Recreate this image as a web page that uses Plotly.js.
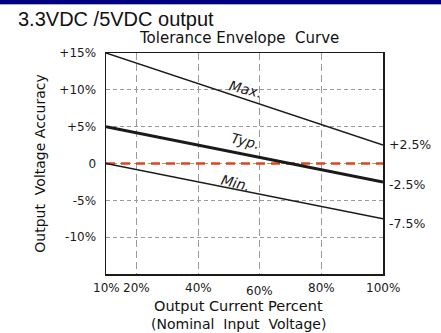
<!DOCTYPE html>
<html><head><meta charset="utf-8">
<script src="https://cdn.plot.ly/plotly-3.0.1.min.js"></script>
<style>html,body{margin:0;padding:0;background:#fff;}#c{width:441px;height:333px;}</style>
</head><body><div id="c"></div>
<script>
const loadPct = [10, 100];
const maxVals = [15, 2.5];
const typVals = [5, -2.5];
const minVals = [0, -7.5];
const refVals = [0, 0];
const xTickVals = [10, 20, 40, 60, 80, 100];
const xTickText = ['10%', '20%', '40%', '60%', '80%', '100%'];
const yTickVals = [15, 10, 5, 0, -5, -10];
const yTickText = ['+15%', '+10%', '+5%', '0', '-5%', '-10%'];
const lineNames = ['Max.', 'Typ.', 'Min.'];
const lineLabelPos = [[55.2, 10.1], [55.2, 3.1], [52.2, -2.6]];
const endLabels = ['+2.5%', '-2.5%', '-7.5%'];
const endLabelY = [2.6, -2.8, -8.2];

const F = 'DejaVu Sans, Verdana, sans-serif';
const traces = [
  {x: loadPct, y: refVals, mode: 'lines', line: {color: '#d8481e', width: 2.5, dash: '9px,6px'}, hoverinfo: 'skip'},
  {x: loadPct, y: maxVals, mode: 'lines', line: {color: '#1a1a1a', width: 1.5}},
  {x: loadPct, y: typVals, mode: 'lines', line: {color: '#1a1a1a', width: 3}},
  {x: loadPct, y: minVals, mode: 'lines', line: {color: '#1a1a1a', width: 1.5}}
];

const ann = [];
lineNames.forEach((n, i) => ann.push({
  x: lineLabelPos[i][0], y: lineLabelPos[i][1], xref: 'x', yref: 'y', text: '<i>' + n + '</i>',
  showarrow: false, textangle: 14, font: {family: F, size: 14, color: '#1a1a1a'}
}));
endLabels.forEach((t, i) => ann.push({
  x: 100, y: endLabelY[i], xref: 'x', yref: 'y', text: t, xanchor: 'left', xshift: 4,
  showarrow: false, font: {family: F, size: 12.5, color: '#1a1a1a'}
}));
xTickVals.forEach((v, i) => ann.push({
  x: v, y: 0, xref: 'x', yref: 'paper', text: xTickText[i], yanchor: 'top',
  yshift: v === 60 ? -8 : -5, showarrow: false, font: {family: F, size: 12, color: '#1a1a1a'}
}));
ann.push({x: -0.326, y: 1.156, xref: 'paper', yref: 'paper', xanchor: 'left', yanchor: 'middle',
  text: '3.3VDC /5VDC output', showarrow: false, font: {family: 'Liberation Sans, Arial, sans-serif', size: 20, color: '#111'}});
ann.push({x: 0.48, y: 1.07, xref: 'paper', yref: 'paper', xanchor: 'center', yanchor: 'middle',
  text: 'Tolerance Envelope  Curve', showarrow: false, font: {family: F, size: 15, color: '#111'}});
ann.push({x: 0.478, y: -0.145, xref: 'paper', yref: 'paper', xanchor: 'center', yanchor: 'middle',
  text: 'Output Current Percent', showarrow: false, font: {family: F, size: 14.5, color: '#111'}});
ann.push({x: 0.478, y: -0.2285, xref: 'paper', yref: 'paper', xanchor: 'center', yanchor: 'middle',
  text: '(Nominal  Input  Voltage)', showarrow: false, font: {family: F, size: 14, color: '#111'}});

const layout = {
  width: 441, height: 333,
  margin: {l: 106, r: 58, t: 53, b: 59},
  paper_bgcolor: '#fff', plot_bgcolor: '#fff',
  showlegend: false,
  xaxis: {range: [10, 100], tickvals: [20, 40, 60, 80], ticktext: ['', '', '', ''], showgrid: true,
    gridcolor: '#9a9a9a', griddash: '7px,4px', gridwidth: 1, zeroline: false,
    showline: true, linecolor: '#1a1a1a', linewidth: 1.5, mirror: true, ticks: ''},
  yaxis: {range: [-15, 15], tickvals: yTickVals, ticktext: yTickText, showgrid: true,
    gridcolor: '#9a9a9a', griddash: '4px,3px', gridwidth: 1, zeroline: false,
    showline: true, linecolor: '#1a1a1a', linewidth: 1.5, mirror: true, ticks: '',
    ticklabelstandoff: 6, tickfont: {family: F, size: 12, color: '#1a1a1a'},
    title: {text: 'Output  Voltage Accuracy', font: {family: F, size: 14, color: '#111'}, standoff: 10}},
  annotations: ann,
  shapes: [
    {type: 'rect', xref: 'paper', yref: 'paper', x0: -0.4, x1: 1.25, y0: 1.2217, y1: 1.3,
      fillcolor: '#000080', line: {width: 0}},
    {type: 'rect', xref: 'paper', yref: 'paper', x0: -0.4, x1: 1.25, y0: 1.2172, y1: 1.2217,
      fillcolor: '#b0b0b0', line: {width: 0}}
  ]
};
Plotly.newPlot('c', traces, layout, {displayModeBar: false, staticPlot: true});
</script></body></html>
